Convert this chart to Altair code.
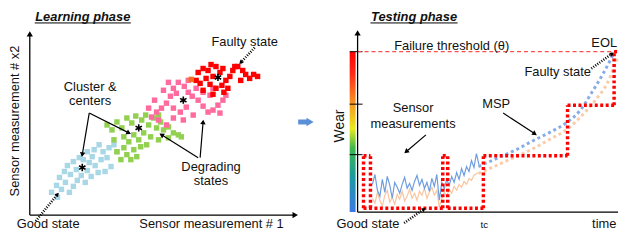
import altair as alt
import numpy as np
import pandas as pd

FONT = "Liberation Sans"

# ---------------- Learning phase (sensor #1 vs sensor #2) ----------------
good_x = [22, 27, 32, 36, 40, 44, 48, 30, 35, 41, 47, 52, 56, 58, 60, 54, 63, 66, 69, 72,
          74, 78, 80, 85, 82, 76, 65, 58, 50, 44, 38, 70, 88, 62, 28]
good_y = [23, 30, 26, 33, 23, 29, 35, 38, 44, 41, 46, 40, 33, 45, 53, 56, 59, 50, 43, 56,
          64, 58, 68, 71, 49, 44, 66, 64, 58, 54, 50, 71, 64, 39, 18]
deg1_x = [78, 83, 88, 93, 98, 103, 107, 113, 117, 120, 125, 128, 132, 135, 140, 145, 150, 153, 140, 130,
          122, 115, 110, 105, 100, 95, 98, 92, 88, 105, 112, 102, 95, 85, 118, 130, 108]
deg1_y = [91, 86, 94, 88, 98, 93, 100, 96, 101, 91, 98, 88, 94, 86, 89, 83, 81, 79, 78, 76,
          79, 83, 76, 81, 74, 68, 61, 56, 64, 66, 69, 56, 79, 76, 71, 101, 59]
deg2_x = [140, 145, 150, 156, 160, 135, 142, 148, 138, 133, 128, 123, 130, 120, 126, 145, 152, 158, 164, 168,
          170, 175, 180, 185, 190, 195, 198, 182, 175, 165, 155, 145, 138, 160, 185, 192]
deg2_y = [134, 128, 134, 130, 136, 126, 120, 123, 113, 108, 104, 99, 96, 108, 116, 108, 104, 109, 120, 128,
          116, 110, 104, 106, 111, 116, 121, 121, 124, 101, 96, 98, 91, 124, 128, 103]
fault_x = [170, 175, 180, 183, 188, 192, 195, 185, 178, 172, 168, 182, 188, 194, 198, 202, 200, 205, 210, 215,
           218, 222, 226, 230, 213, 175, 185, 196, 207]
fault_y = [144, 148, 146, 152, 150, 144, 148, 140, 138, 133, 136, 132, 128, 131, 136, 140, 128, 146, 150, 146,
           142, 138, 142, 140, 136, 126, 122, 124, 150]
odd_x = [163]
odd_y = [137]
center_x = [53, 110, 155, 190]
center_y = [48, 88, 116, 139]

# ---------------- Testing phase (time vs wear) ----------------
sensor_t = [15, 17.5, 20, 22.5, 25, 27.5, 30, 32.5, 35, 37.5, 40, 42.5, 45, 47.5, 50, 52.5, 55, 57.5, 60, 62.5,
            65, 67.5, 70, 72.5, 75, 77.5, 80, 82.5, 85, 87.5, 90, 92.5, 95, 97.5, 100, 102.5, 105, 107.5, 110, 112.5,
            115, 117.5, 120, 122.5]
sensor_blue = [28, 38, 22, 16, 33, 20, 36, 27, 14, 30, 25, 19, 28, 35, 24, 29, 22, 31, 37, 27,
               33, 24, 30, 21, 34, 26, 38, 12, 30, 24, 33, 27, 36, 30, 40, 33, 44, 37, 46, 41,
               52, 45, 59, 48]
sensor_orange = [14, 9, 20, 12, 6, 17, 22, 10, 15, 8, 18, 13, 21, 11, 16, 23, 14, 19, 12, 21,
                 17, 24, 14, 20, 25, 17, 22, 5, 14, 20, 16, 23, 19, 26, 22, 28, 25, 31, 28, 34,
                 32, 37, 39, 40]
msp_blue_t = [122, 140, 160, 179, 195, 212, 225, 236, 248, 259]
msp_blue = [46, 54, 63, 73, 81, 91, 103, 120, 140, 161]
msp_orange_t = [122, 140, 160, 179, 195, 212, 225, 240, 252, 263]
msp_orange = [39, 47, 56, 65, 74, 84, 96, 113, 130, 158]
threshold = 162
wear_ticks = [58, 109, 162]
# health-state staircase (dotted red outline)
step_x = [6, 6, 13, 6, 86, 86, 91, 91, 127, 127, 212, 212, 259, 259]
step_y = [4, 57, 4, 4, 4, 57, 4, 4, 4, 57, 57, 108, 108, 162]
step_x2 = [6, 13, 13, 86, 86, 91, 91, 127, 127, 212, 212, 259, 259, 263]
step_y2 = [57, 57, 57, 4, 57, 57, 57, 4, 57, 57, 108, 108, 162, 162]

H = 225
XL = alt.Scale(domain=[-22, 288], nice=False, zero=False)
YL = alt.Scale(domain=[208 - H, 208], nice=False, zero=False)
XR = alt.Scale(domain=[-43, 263], nice=False, zero=False)
YR = alt.Scale(domain=[205 - H, 205], nice=False, zero=False)


def xy(xs, ys, xf="x", yf="y"):
    return dict(x=alt.X(f"{xf}:Q", scale=xs, axis=None), y=alt.Y(f"{yf}:Q", scale=ys, axis=None))


def points(xv, yv, xs, ys, **mk):
    df = pd.DataFrame({"x": xv, "y": yv})
    return alt.Chart(df).mark_point(**mk).encode(**xy(xs, ys))


def segs(rows, xs, ys, **mk):
    df = pd.DataFrame(rows, columns=["x", "y", "x2", "y2"])
    return alt.Chart(df).mark_rule(**mk).encode(**xy(xs, ys), x2="x2:Q", y2="y2:Q")


def heads(rows, xs, ys, size=28, color="black"):
    df = pd.DataFrame(rows, columns=["x", "y", "x2", "y2"])
    df["ang"] = np.degrees(np.arctan2(df.x2 - df.x, df.y2 - df.y)) % 360
    return alt.Chart(df).mark_point(shape="triangle-up", filled=True, size=size, color=color,
                                    opacity=1, strokeWidth=0).encode(
        **xy(xs, ys, "x2", "y2"), angle=alt.Angle("ang:Q", scale=None))


def texts(rows, xs, ys, **mk):
    df = pd.DataFrame(rows, columns=["label", "x", "y", "fs", "ang"])
    return alt.Chart(df).mark_text(font=FONT, baseline="middle", color="#111", **mk).encode(
        **xy(xs, ys), text="label:N", size=alt.Size("fs:Q", scale=None),
        angle=alt.Angle("ang:Q", scale=None))


def line(tv, vv, xs, ys, **mk):
    df = pd.DataFrame({"x": tv, "y": vv})
    return alt.Chart(df).mark_line(**mk).encode(**xy(xs, ys))


STAR = "M0,-1L0,1M-0.87,-0.5L0.87,0.5M-0.87,0.5L0.87,-0.5"
SQ = 30

# ---------------- left panel ----------------
l_axes = [[0, 0, 0, 183], [0, 0, 268, 0]]
l_arrows = [[60, 103, 53, 61], [60, 103, 100, 83], [170, 58, 133, 81], [172, 58, 175, 94]]
l_dotted = [[6, -6, 28, 21], [227, 169, 213, 154]]
left = alt.layer(
    segs(l_axes, XL, YL, color="black", strokeWidth=1.3),
    heads(l_axes, XL, YL, size=40),
    points(good_x, good_y, XL, YL, shape="square", filled=True, size=SQ, color="#a8d8e6", opacity=1),
    points(deg1_x, deg1_y, XL, YL, shape="square", filled=True, size=SQ, color="#92d050", opacity=1),
    points(deg2_x, deg2_y, XL, YL, shape="square", filled=True, size=SQ, color="#ff6b9e", opacity=1),
    points(fault_x, fault_y, XL, YL, shape="square", filled=True, size=SQ, color="#ff0000", opacity=1),
    points(odd_x, odd_y, XL, YL, shape="square", filled=True, size=SQ, color="#f07020", opacity=1),
    points(center_x, center_y, XL, YL, shape=STAR, filled=False, size=55, color="black",
           strokeWidth=1.6, opacity=1),
    segs(l_arrows, XL, YL, color="black", strokeWidth=1.2),
    heads(l_arrows, XL, YL, size=30),
    segs(l_dotted, XL, YL, color="black", strokeWidth=2.6, strokeDash=[1, 1.5]),
    heads(l_dotted, XL, YL, size=22),
    segs([[271, 94, 281, 94]], XL, YL, color="#5b8fd8", strokeWidth=5),
    heads([[271, 94, 283, 94]], XL, YL, size=70, color="#5b8fd8"),
    segs([[5, 194, 102, 194]], XL, YL, color="black", strokeWidth=1),
    texts([["Learning phase", 53.5, 200, 13, 0]], XL, YL, fontStyle="italic", fontWeight="bold"),
    texts([
        ["Sensor measurement # x2", -15, 95, 13, 270],
        ["Sensor measurement # 1", 183.5, -9.5, 13, 0],
        ["Good state", 18.5, -9.5, 13, 0],
        ["Faulty state", 217, 175, 13, 0],
        ["Cluster &", 61, 129, 13, 0],
        ["centers", 61, 115, 13, 0],
        ["Degrading", 183, 49, 13, 0],
        ["states", 183, 34, 13, 0],
    ], XL, YL),
).properties(width=310, height=H)

# ---------------- right panel ----------------
r_axes = [[0, 0, 0, 181], [0, 0, 263, 0]]
r_arrows = [[69, 78, 49, 61], [147, 100, 179, 79]]
r_dotted = [[236, 145, 257, 160], [47, -11, 67, 3]]
bar = pd.DataFrame({"x": [-8], "x2": [-2], "y": [0], "y2": [threshold]})
grad = alt.Gradient(gradient="linear", x1=0, x2=0, y1=1, y2=0, stops=[
    alt.GradientStop(color="#3b78e6", offset=0),
    alt.GradientStop(color="#1a9aa0", offset=0.22),
    alt.GradientStop(color="#3fb84a", offset=0.40),
    alt.GradientStop(color="#e8ea1c", offset=0.52),
    alt.GradientStop(color="#f5a020", offset=0.66),
    alt.GradientStop(color="#ff2a1a", offset=0.86),
    alt.GradientStop(color="#ff0000", offset=1),
])
right = alt.layer(
    alt.Chart(bar).mark_rect(color=grad).encode(**xy(XR, YR), x2="x2:Q", y2="y2:Q"),
    segs([[-8, v, 5, v] for v in wear_ticks], XR, YR, color="black", strokeWidth=1),
    segs([[0, threshold, 262, threshold]], XR, YR, color="#ff4d4d", strokeWidth=1.3, strokeDash=[4, 3]),
    segs(r_axes, XR, YR, color="black", strokeWidth=1.3),
    heads(r_axes[:1], XR, YR, size=40),
    line(sensor_t, sensor_orange, XR, YR, color="#f9c6a2", strokeWidth=1.2),
    line(sensor_t, sensor_blue, XR, YR, color="#6e9de0", strokeWidth=1.2),
    line(msp_orange_t, msp_orange, XR, YR, color="#f9cba8", strokeWidth=3, strokeDash=[3, 3],
         interpolate="monotone"),
    line(msp_blue_t, msp_blue, XR, YR, color="#86ade6", strokeWidth=3, strokeDash=[3, 3],
         interpolate="monotone"),
    alt.Chart(pd.DataFrame({"x": step_x, "y": step_y, "x2": step_x2, "y2": step_y2})).mark_rule(
        color="#ff0000", strokeWidth=3.5, strokeDash=[3, 2.5]).encode(**xy(XR, YR), x2="x2:Q", y2="y2:Q"),
    segs(r_arrows, XR, YR, color="black", strokeWidth=1.2),
    heads(r_arrows, XR, YR, size=30),
    segs(r_dotted, XR, YR, color="black", strokeWidth=2.6, strokeDash=[1, 1.5]),
    heads(r_dotted, XR, YR, size=22),
    segs([[13, 191, 101, 191]], XR, YR, color="black", strokeWidth=1),
    texts([["Testing phase", 57, 197, 13, 0]], XR, YR, fontStyle="italic", fontWeight="bold"),
    texts([
        ["Failure threshold  (θ)", 95, 168, 13, 0],
        ["Wear", -18, 87, 14, 270],
        ["Sensor", 56, 105, 13, 0],
        ["measurements", 56, 89, 13, 0],
        ["MSP", 140, 109, 13, 0],
        ["Faulty state", 202, 141, 13, 0],
        ["Good state", 10.5, -12, 13, 0],
        ["tc", 128, -13, 10, 0],
        ["time", 249, -12, 13, 0],
    ], XR, YR),
    texts([["EOL", 262, 171, 13, 0]], XR, YR, align="right"),
).properties(width=306, height=H)

chart = alt.hconcat(left, right, spacing=0, bounds="flush").properties(
    padding=0
).configure_view(stroke=None).configure_concat(spacing=0)

chart.save("out.html", embed_options={"renderer": "svg", "actions": False})
